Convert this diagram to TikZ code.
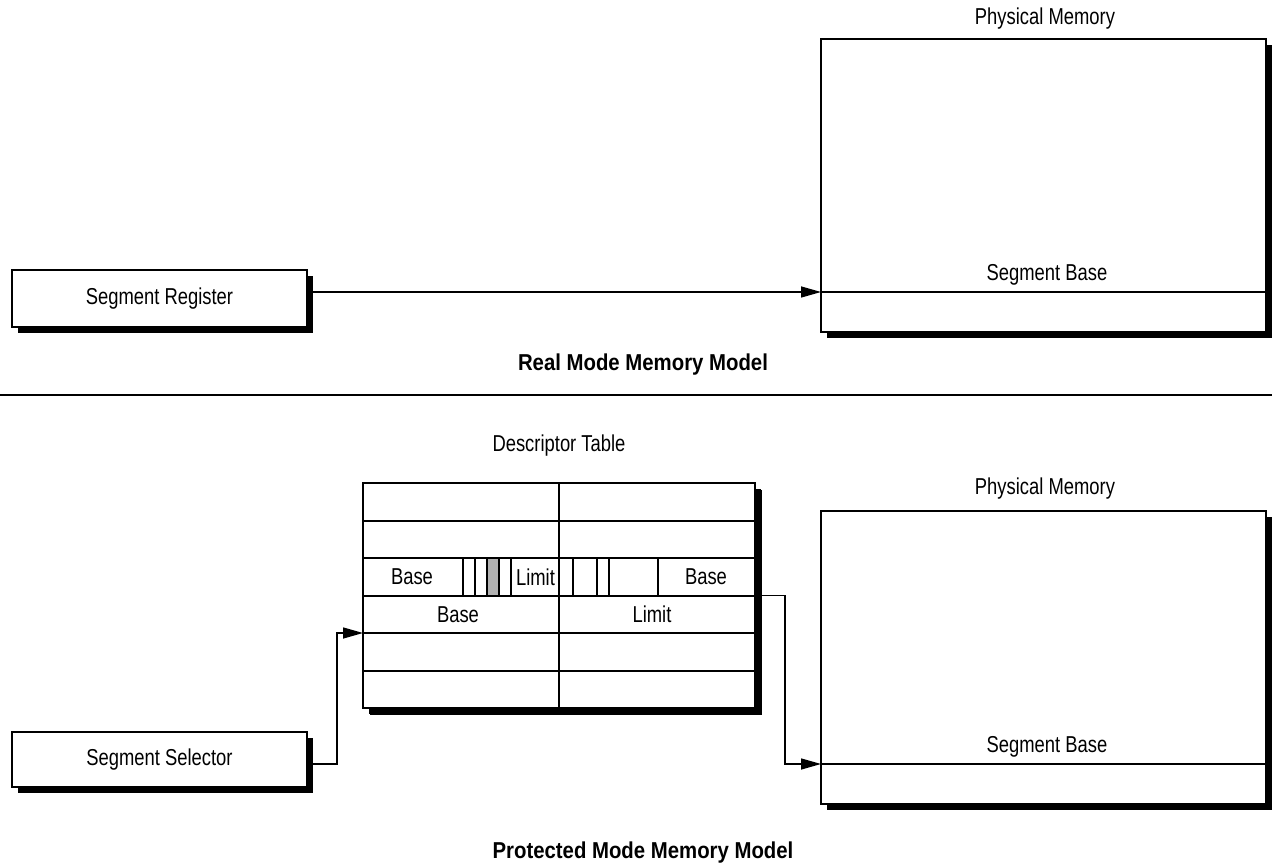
\documentclass[tikz,border=0pt]{standalone}
\usepackage{fontspec}
\setmainfont[FakeStretch=0.8]{Liberation Sans}
\newfontfamily\ttlfont[FakeStretch=0.885]{Liberation Sans}
\usetikzlibrary{arrows.meta,shadows}
\begin{document}
\begin{tikzpicture}[x=1pt,y=-1pt,
  box/.style={draw, line width=2pt, fill=white, inner sep=0pt,
    drop shadow={shadow xshift=6pt, shadow yshift=-6pt, fill=black, opacity=1}},
  lbl/.style={font=\fontsize{23}{27}\selectfont, inner sep=0pt},
  ttl/.style={font=\ttlfont\bfseries\fontsize{23}{27}\selectfont, inner sep=0pt},
  grid/.style={line width=2pt},
  arr/.style={line width=1.5pt, -{Triangle[length=20pt,width=11pt]}}]
\useasboundingbox (0,0) rectangle (1272,866);

% ---------- Real mode ----------
\node[box, minimum width=295pt, minimum height=57pt] (reg) at (159.5,298.5) {};
\node[lbl] (regt) at (reg.center) {Segment Register};
\node[box, minimum width=445pt, minimum height=293pt] (mem1) at (1043.5,185.5) {};
\node[lbl] (mem1t) at (1045,19) {Physical Memory};
\draw[grid] (mem1.west |- 0,292) -- (mem1.east |- 0,292);
\node[lbl] (sb1t) at (1047,275) {Segment Base};
\coordinate (sb1) at (821,292);
\draw[arr] (reg.east |- sb1) -- (sb1);
\node[ttl] (t1) at (643,365) {Real Mode Memory Model};

\draw[line width=2pt] (0,395) -- (1272,395);

% ---------- Protected mode ----------
\node[lbl] (dtt) at (559,446) {Descriptor Table};
\node[box, minimum width=392pt, minimum height=225pt,
  drop shadow={shadow xshift=7pt, shadow yshift=-7pt, fill=black, opacity=1}] (dt) at (559,595.5) {};
\fill[black!30] (487.3,558) rectangle (499,595.5);
\foreach \yy in {520.5,558,595.5,633,670.5}
  \draw[grid] (dt.west |- 0,\yy) -- (dt.east |- 0,\yy);
\draw[grid] (dt.north) -- (dt.south);
\foreach \xx in {462.7,475,487.3,499,510.7,572.7,597.3,609,657.7}
  \draw[grid] (\xx,558) -- (\xx,595.5);
\node[lbl] (c1) at (412,577) {Base};
\node[lbl] (c2) at (535.5,577) {Limit};
\node[lbl] (c3) at (706,577) {Base};
\node[lbl] (c4) at (458,614.5) {Base};
\node[lbl] (c5) at (652,614.5) {Limit};

\node[box, minimum width=295pt, minimum height=55pt] (sel) at (159.5,759.5) {};
\node[lbl] (selt) at (sel.center) {Segment Selector};

\node[box, minimum width=445pt, minimum height=293pt] (mem2) at (1043.5,657.5) {};
\node[lbl] (mem2t) at (1045,489) {Physical Memory};
\draw[grid] (mem2.west |- 0,764) -- (mem2.east |- 0,764);
\node[lbl] (sb2t) at (1047,747) {Segment Base};
\coordinate (sb2) at (821,764);
\coordinate (inT) at (363,633);
\coordinate (outT) at (755,595.5);
\draw[arr] ([yshift=-4.5pt]sel.east) -| ([xshift=-26pt]inT) -- (inT);
\draw[arr] (outT) -- ++(30,0) |- (sb2);
\node[ttl] (t2) at (643,853) {Protected Mode Memory Model};
\end{tikzpicture}
\end{document}
